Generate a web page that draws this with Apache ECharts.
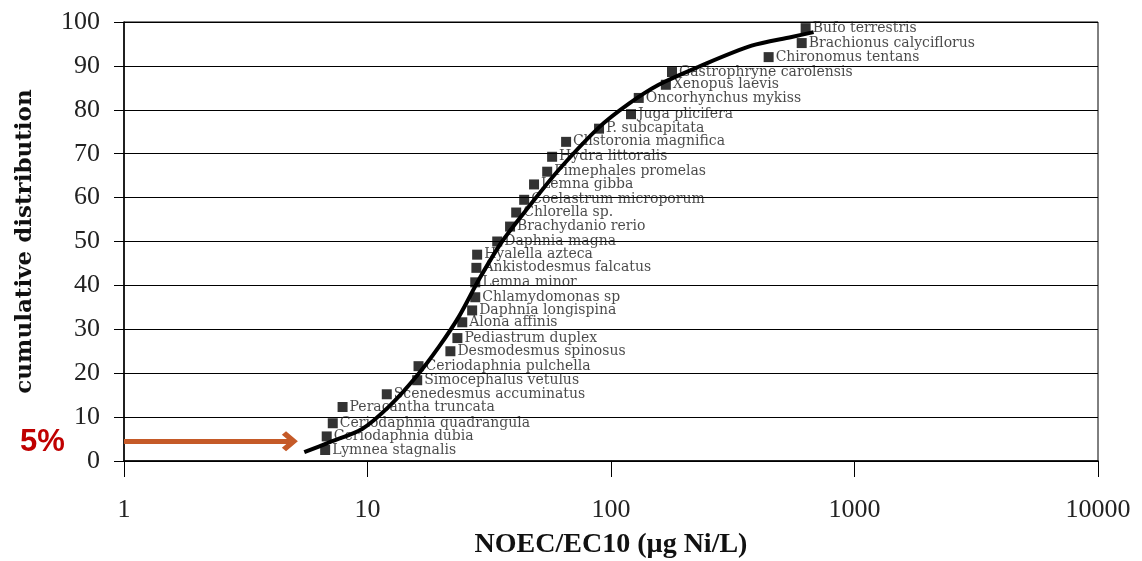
<!DOCTYPE html>
<html>
<head>
<meta charset="utf-8">
<script src="https://cdn.jsdelivr.net/npm/echarts@6/dist/echarts.min.js"></script>
<style>
  html, body { margin: 0; padding: 0; background: #fff; }
  #main { width: 1142px; height: 561px; }
</style>
</head>
<body>
<div id="main"></div>
<script>
var species = [
    "Lymnea stagnalis", "Ceriodaphnia dubia", "Ceriodaphnia quadrangula", "Peracantha truncata",
    "Scenedesmus accuminatus", "Simocephalus vetulus", "Ceriodaphnia pulchella", "Desmodesmus spinosus",
    "Pediastrum duplex", "Alona affinis", "Daphnia longispina", "Chlamydomonas sp",
    "Lemna minor", "Ankistodesmus falcatus", "Hyalella azteca", "Daphnia magna",
    "Brachydanio rerio", "Chlorella sp.", "Coelastrum microporum", "Lemna gibba",
    "Pimephales promelas", "Hydra littoralis", "Clistoronia magnifica", "P. subcapitata",
    "Juga plicifera", "Oncorhynchus mykiss", "Xenopus laevis", "Gastrophryne carolensis",
    "Chironomus tentans", "Brachionus calyciflorus", "Bufo terrestris"
];
var noec = [
    6.7, 6.8, 7.2, 7.9, 12.0, 16.0, 16.2, 21.9,
    23.4, 24.5, 26.9, 27.7, 27.7, 28.0, 28.2, 34.1,
    38.5, 40.8, 44.0, 48.3, 54.7, 57.3, 65.4, 89.3,
    120.8, 130, 168, 178, 444, 607, 630
];
var cumul = [
    2.5, 5.6, 8.6, 12.3, 15.2, 18.4, 21.6, 25.0,
    28.0, 31.6, 34.3, 37.3, 40.7, 44.0, 47.0, 50.0,
    53.4, 56.6, 59.5, 63.0, 65.9, 69.3, 72.7, 75.7,
    79.0, 82.7, 85.7, 88.6, 92.0, 95.2, 98.6
];

/* fitted curve */
var curveX = [5.5, 7.0, 9.5, 12.3, 15.9, 19.7, 23.8, 28.8, 35.7, 46.1, 61.2, 89.3, 118.5, 157, 229, 378, 552, 679];
var curveY = [2.0, 4.3, 7.3, 12.5, 19.3, 26.1, 33.0, 41.5, 50.0, 58.0, 66.4, 76.0, 81.4, 85.7, 89.8, 94.6, 96.6, 97.7];

/* 5% arrow */
var arrowFrom = [1, 4.5];
var arrowTo = [4.8, 4.5];

var serif = "Liberation Serif";
var labelFont = "DejaVu Serif";

var points = species.map(function (name, i) {
    return { name: name, value: [noec[i], cumul[i]] };
});
var curve = curveX.map(function (x, i) { return [x, curveY[i]]; });

var chevron = "path://M10,0 L20,10 L16.5,13.5 L10,7 L3.5,13.5 L0,10 Z";

var option = {
    animation: false,
    textStyle: { fontFamily: serif },
    grid: {
        left: 124, right: 44, top: 22, bottom: 100,
        outerBoundsMode: "none",
        containLabel: false,
        show: true, borderColor: "#000", borderWidth: 1,
    },
    xAxis: {
        type: "log",
        logBase: 10,
        min: 1,
        max: 10000,
        name: "NOEC/EC10 (\u00b5g Ni/L)",
        nameLocation: "middle",
        nameGap: 70,
        nameTextStyle: { fontFamily: serif, fontSize: 28, fontWeight: "bold", color: "#111" },
        axisLine: { show: true, lineStyle: { color: "#000", width: 1.5 } },
        axisTick: { show: true, length: 16, lineStyle: { color: "#000", width: 1 } },
        minorTick: { show: false },
        axisLabel: {
            fontFamily: serif, fontSize: 26, color: "#222", margin: 36,
            formatter: function (v) { return String(Math.round(v)); },
        },
        splitLine: { show: false },
    },
    yAxis: {
        type: "value",
        min: 0,
        max: 100,
        interval: 10,
        name: "cumulative distribution",
        nameLocation: "middle",
        nameRotate: 90,
        nameGap: 87,
        nameTextStyle: { fontFamily: labelFont, fontSize: 23, fontWeight: "bold", color: "#111" },
        axisLine: { show: true, lineStyle: { color: "#000", width: 1.5 } },
        axisTick: { show: true, length: 10, lineStyle: { color: "#000", width: 1 } },
        axisLabel: { fontFamily: serif, fontSize: 26, color: "#222", margin: 24 },
        splitLine: { show: true, lineStyle: { color: "#000", width: 1 } },
    },
    series: [
        {
            name: "fit",
            type: "line",
            data: curve,
            smooth: 0.3,
            symbol: "none",
            lineStyle: { color: "#000", width: 4 },
            z: 3,
            markLine: {
                silent: true,
                symbol: ["none", chevron],
                symbolSize: [20, 16],
                label: { show: false },
                lineStyle: { color: "#c55a28", width: 5, type: "solid" },
                data: [[{ coord: arrowFrom }, { coord: arrowTo }]],
            },
        },
        {
            name: "species",
            type: "scatter",
            data: points,
            symbol: "rect",
            symbolSize: 10,
            itemStyle: { color: "#000" },
            z: 2,
            label: {
                show: true,
                position: "right",
                distance: 2,
                formatter: "{b}",
                fontFamily: labelFont,
                fontSize: 14,
                color: "#1a1a1a",
            },
            labelLayout: { hideOverlap: false },
        },
    ],
    graphic: [
        {
            type: "text",
            left: 20,
            top: 427,
            style: {
                text: "5%",
                fontFamily: "Liberation Sans",
                fontSize: 31,
                fontWeight: "bold",
                fill: "#c00000",
            },
        },
    ],
};

var myChart = echarts.init(document.getElementById("main"), null, { renderer: "canvas" });
myChart.setOption(option);
</script>
</body>
</html>
